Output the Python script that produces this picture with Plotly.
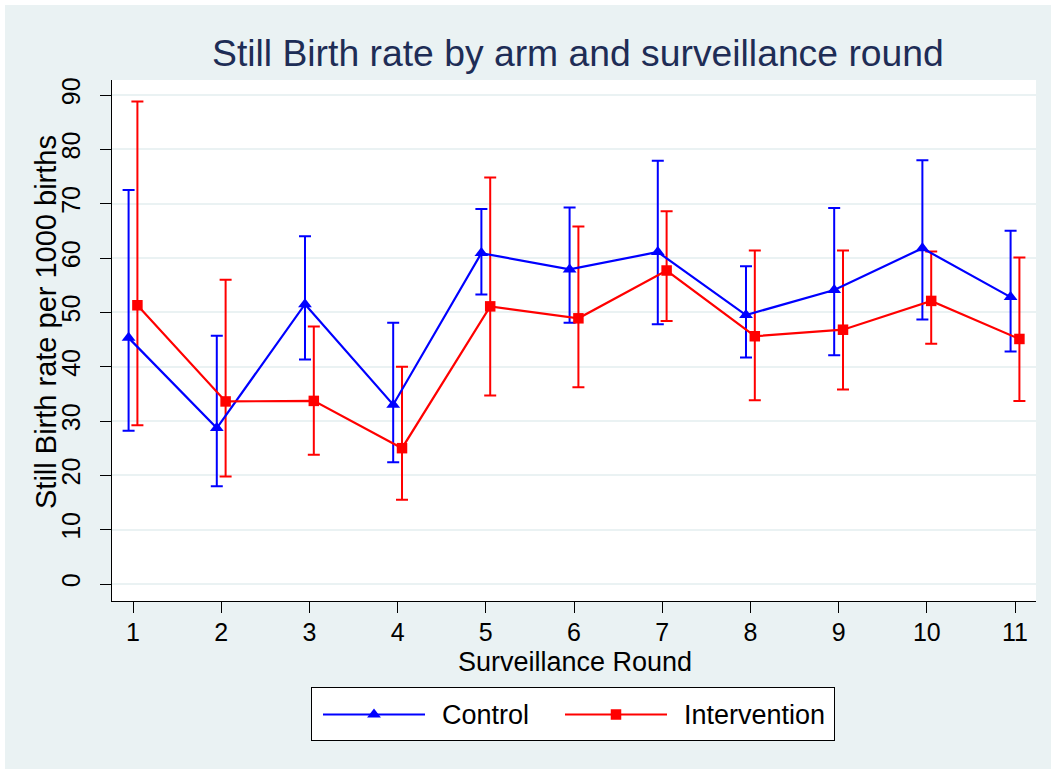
import plotly.graph_objects as go

# ---------------- data ----------------
rounds = [1, 2, 3, 4, 5, 6, 7, 8, 9, 10, 11]
round_labels = ["1", "2", "3", "4", "5", "6", "7", "8", "9", "10", "11"]

control_rate = [45.3, 28.7, 51.5, 33.0, 60.9, 57.9, 61.1, 49.5, 54.1, 61.8, 52.8]
control_lo = [28.2, 18.0, 41.3, 22.4, 53.3, 48.1, 47.8, 41.7, 42.1, 48.7, 42.8]
control_hi = [72.5, 45.7, 64.0, 48.1, 69.0, 69.3, 77.9, 58.5, 69.2, 78.0, 65.0]

interv_rate = [51.3, 33.6, 33.7, 25.0, 51.1, 48.9, 57.7, 45.6, 46.8, 52.1, 45.1]
interv_lo = [29.2, 19.8, 23.8, 15.5, 34.7, 36.2, 48.4, 33.8, 35.8, 44.2, 33.7]
interv_hi = [88.8, 56.0, 47.4, 40.0, 74.8, 65.8, 68.6, 61.4, 61.4, 61.2, 60.1]

y_ticks = [0, 10, 20, 30, 40, 50, 60, 70, 80, 90]

# ---------------- styling ----------------
W, H = 1051, 769
FONT = "Liberation Sans, Arial, sans-serif"
BG = "#EAF2F3"
BLUE = "#0000FF"
RED = "#FF0000"
NAVY = "#1E2D56"
offset = 0.05

def px(x):
    return x / W

def py(y):
    return 1 - y / H

# plot area in pixels
L, R, T, B = 112, 1036, 80, 601

x_c = [r - offset for r in rounds]
x_i = [r + offset for r in rounds]

def err(rate, lo, hi):
    return [h - r for r, h in zip(rate, hi)], [r - l for r, l in zip(rate, lo)]

c_plus, c_minus = err(control_rate, control_lo, control_hi)
i_plus, i_minus = err(interv_rate, interv_lo, interv_hi)

fig = go.Figure()

# confidence interval caps
fig.add_trace(go.Scatter(
    x=x_c, y=control_rate, mode="markers", showlegend=False, hoverinfo="skip",
    marker=dict(color="rgba(0,0,0,0)", size=1),
    error_y=dict(type="data", symmetric=False, array=c_plus, arrayminus=c_minus,
                 color=BLUE, thickness=2, width=6)))
fig.add_trace(go.Scatter(
    x=x_i, y=interv_rate, mode="markers", showlegend=False, hoverinfo="skip",
    marker=dict(color="rgba(0,0,0,0)", size=1),
    error_y=dict(type="data", symmetric=False, array=i_plus, arrayminus=i_minus,
                 color=RED, thickness=2, width=6)))

# connected lines
fig.add_trace(go.Scatter(
    x=x_c, y=control_rate, mode="lines+markers", name="Control", showlegend=False,
    line=dict(color=BLUE, width=2.2),
    marker=dict(symbol="triangle-up", size=12, color=BLUE)))
fig.add_trace(go.Scatter(
    x=x_i, y=interv_rate, mode="lines+markers", name="Intervention", showlegend=False,
    line=dict(color=RED, width=2.2),
    marker=dict(symbol="square", size=10.5, color=RED)))

# ---------------- custom legend (own small subplot) ----------------
LG_L, LG_R, LG_T, LG_B = 312, 834, 688, 740
LG_Y = 714.5
legend_items = [
    ("Control", BLUE, "triangle-up", 12, 323, 425, 440),
    ("Intervention", RED, "square", 10.5, 565, 667, 682),
]
for name, col, sym, size, x0, x1, tx in legend_items:
    fig.add_trace(go.Scatter(
        x=[x0, (x0 + x1) / 2, x1], y=[LG_Y] * 3, mode="lines", xaxis="x2", yaxis="y2",
        showlegend=False, hoverinfo="skip", line=dict(color=col, width=2.2)))
    fig.add_trace(go.Scatter(
        x=[(x0 + x1) / 2], y=[LG_Y], mode="markers", xaxis="x2", yaxis="y2",
        showlegend=False, hoverinfo="skip", marker=dict(symbol=sym, size=size, color=col)))

annotations = []
for name, col, sym, size, x0, x1, tx in legend_items:
    annotations.append(dict(
        x=px(tx), y=py(LG_Y), xref="paper", yref="paper", text=name, showarrow=False,
        xanchor="left", yanchor="middle", font=dict(family=FONT, size=27, color="#000000")))

# title and axis titles
annotations.append(dict(
    x=px(578), y=py(53), xref="paper", yref="paper",
    text="Still Birth rate by arm and surveillance round", showarrow=False,
    xanchor="center", yanchor="middle", font=dict(family=FONT, size=37.3, color=NAVY)))
annotations.append(dict(
    x=px(575), y=py(662), xref="paper", yref="paper", text="Surveillance Round",
    showarrow=False, xanchor="center", yanchor="middle",
    font=dict(family=FONT, size=27, color="#000000")))
annotations.append(dict(
    x=px(46), y=py(322), xref="paper", yref="paper", text="Still Birth rate per 1000 births",
    showarrow=False, xanchor="center", yanchor="middle", textangle=-90,
    font=dict(family=FONT, size=29, color="#000000")))

ppu_x = (1015 - 133) / 10.0
ppu_y = (584 - 95) / 90.0
x_range = [1 - (133 - L) / ppu_x, 11 + (R - 1015) / ppu_x]
y_range = [0 - (B - 584) / ppu_y, 90 + (95 - T) / ppu_y]

fig.update_layout(
    width=W, height=H,
    margin=dict(l=0, r=0, t=0, b=0, pad=0),
    paper_bgcolor=BG, plot_bgcolor="#FFFFFF",
    font=dict(family=FONT, color="#000000"),
    showlegend=False,
    xaxis=dict(domain=[px(L), px(R)], range=x_range, tickvals=rounds, ticktext=round_labels,
               ticks="outside", ticklen=11, tickwidth=1.2, tickcolor="#000000",
               tickfont=dict(family=FONT, size=25, color="#000000"),
               ticklabelstandoff=-2,
               showgrid=False, zeroline=False, showline=True, linecolor="#000000",
               linewidth=1.3, anchor="y", automargin=False, fixedrange=True),
    yaxis=dict(domain=[py(B), py(T)], range=y_range, tickvals=y_ticks,
               ticks="outside", ticklen=11, tickwidth=1.2, tickcolor="#000000",
               tickangle=-90, tickfont=dict(family=FONT, size=25, color="#000000"),
               ticklabelstandoff=10,
               showgrid=True, gridcolor=BG, gridwidth=2.2, zeroline=False,
               showline=True, linecolor="#000000", linewidth=1.3, anchor="x",
               automargin=False, fixedrange=True),
    xaxis2=dict(domain=[px(LG_L), px(LG_R)], range=[LG_L, LG_R], anchor="y2",
                showgrid=False, zeroline=False, showticklabels=False, ticks="",
                showline=True, mirror=True, linecolor="#000000", linewidth=1.2,
                fixedrange=True),
    yaxis2=dict(domain=[py(LG_B), py(LG_T)], range=[LG_B, LG_T], anchor="x2",
                showgrid=False, zeroline=False, showticklabels=False, ticks="",
                showline=True, mirror=True, linecolor="#000000", linewidth=1.2,
                fixedrange=True),
    annotations=annotations,
    shapes=[
        dict(type="rect", xref="paper", yref="paper", x0=0, x1=1, y0=py(5), y1=1,
             fillcolor="#FFFFFF", line=dict(width=0), layer="below"),
        dict(type="rect", xref="paper", yref="paper", x0=0, x1=px(5), y0=0, y1=1,
             fillcolor="#FFFFFF", line=dict(width=0), layer="below"),
    ],
)

fig.write_html(
    "out.html",
    config={"displayModeBar": False},
    post_script="document.body.style.margin='0';document.body.style.overflow='hidden';",
)
